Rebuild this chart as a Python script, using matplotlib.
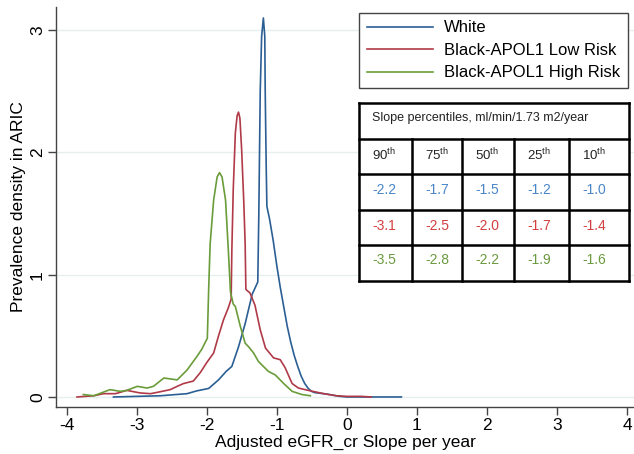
import numpy as np
import matplotlib
matplotlib.use("Agg")
import matplotlib.pyplot as plt

plt.rcParams['font.family'] = ['Liberation Sans', 'DejaVu Sans']
plt.rcParams['mathtext.fontset'] = 'custom'
plt.rcParams['mathtext.rm'] = 'Liberation Sans'
plt.rcParams['axes.unicode_minus'] = False

# density curves
white_x = [-3.33, -2.66, -2.28, -2.14, -1.97, -1.83, -1.72, -1.64, -1.545, -1.45, -1.35, -1.27,
           -1.255, -1.235, -1.215, -1.19, -1.17, -1.164, -1.15, -1.14, -1.10, -1.05, -1.0, -0.95,
           -0.9, -0.85, -0.8, -0.75, -0.7, -0.65, -0.6, -0.55, -0.5, -0.45, -0.3, -0.2, -0.1,
           0.0, 0.4, 0.78]
white_y = [0.0, 0.01, 0.027, 0.05, 0.07, 0.14, 0.21, 0.25, 0.41, 0.60, 0.84, 0.94,
           1.5, 2.5, 2.95, 3.10, 2.95, 2.51, 1.9, 1.56, 1.45, 1.28, 1.08, 0.90,
           0.74, 0.58, 0.45, 0.34, 0.25, 0.17, 0.11, 0.07, 0.045, 0.035, 0.025, 0.015, 0.005,
           0.0, 0.0, 0.0]

low_x = [-3.85, -3.61, -3.47, -3.30, -3.14, -2.95, -2.80, -2.66, -2.52, -2.42, -2.33, -2.19,
         -2.09, -2.0, -1.90, -1.83, -1.76, -1.69, -1.65, -1.64, -1.62, -1.59, -1.565, -1.545,
         -1.525, -1.50, -1.47, -1.45, -1.44, -1.38, -1.31, -1.235, -1.16, -1.045, -0.95, -0.88,
         -0.78, -0.69, -0.55, -0.33, -0.15, 0.0, 0.2, 0.35]
low_y = [0.0, 0.01, 0.027, 0.027, 0.054, 0.033, 0.027, 0.043, 0.06, 0.087, 0.11, 0.13,
         0.20, 0.28, 0.36, 0.50, 0.63, 0.73, 0.80, 1.2, 1.7, 2.16, 2.3, 2.33,
         2.28, 2.02, 1.6, 1.25, 0.88, 0.85, 0.75, 0.55, 0.40, 0.32, 0.305, 0.24,
         0.11, 0.073, 0.054, 0.027, 0.01, 0.005, 0.005, 0.0]

high_x = [-3.76, -3.61, -3.38, -3.23, -3.14, -2.99, -2.85, -2.76, -2.61, -2.42, -2.28, -2.14,
          -2.07, -1.99, -1.97, -1.95, -1.90, -1.85, -1.816, -1.78, -1.73, -1.69, -1.66, -1.62,
          -1.59, -1.52, -1.45, -1.40, -1.33, -1.26, -1.19, -1.12, -1.02, -0.90, -0.78, -0.64,
          -0.52]
high_y = [0.02, 0.01, 0.06, 0.046, 0.054, 0.087, 0.073, 0.087, 0.155, 0.14, 0.22, 0.33,
          0.39, 0.48, 0.9, 1.25, 1.61, 1.80, 1.835, 1.80, 1.61, 1.20, 0.86, 0.76,
          0.74, 0.58, 0.44, 0.41, 0.36, 0.29, 0.25, 0.21, 0.18, 0.11, 0.046, 0.02,
          0.01]

labels = ["White", "Black-APOL1 Low Risk", "Black-APOL1 High Risk"]
pct_names = ["90", "75", "50", "25", "10"]
white_pct = [-2.2, -1.7, -1.5, -1.2, -1.0]
low_pct = [-3.1, -2.5, -2.0, -1.7, -1.4]
high_pct = [-3.5, -2.8, -2.2, -1.9, -1.6]

line_cols = ["#2b5f94", "#b03a48", "#6a9c3a"]
text_cols = ["#4a86c8", "#d33f3f", "#6b9a40"]

W, H = 634, 454
fig = plt.figure(figsize=(W / 100, H / 100), dpi=100)
ax = fig.add_axes([56 / W, 1 - 407 / H, (634 - 56) / W, 400 / H])

for xs, ys, c, lab in zip([white_x, low_x, high_x], [white_y, low_y, high_y], line_cols, labels):
    ax.plot(xs, ys, color=c, lw=1.2, label=lab)

ax.set_xlim(-4.15, 4.1)
ax.set_ylim(-0.082, 3.19)
ax.set_xticks([-4, -3, -2, -1, 0, 1, 2, 3, 4])
ax.set_yticks([0, 1, 2, 3])
for y in [0, 1, 2, 3]:
    ax.axhline(y, color="#e6efef", lw=1.0, zorder=0)
for s in ["top", "right"]:
    ax.spines[s].set_visible(False)
for s in ["left", "bottom"]:
    ax.spines[s].set_color("#444444")
    ax.spines[s].set_linewidth(1.0)
ax.tick_params(length=6, width=1, color="#444444", labelsize=12.5, pad=2)
for t in ax.get_yticklabels():
    t.set_rotation(90)
    t.set_va("center")
ax.set_xlabel("Adjusted eGFR_cr Slope per year", fontsize=12.5, labelpad=1)
ax.set_ylabel("Prevalence density in ARIC", fontsize=12.5, labelpad=3)

leg = ax.legend(loc="upper left", bbox_to_anchor=(359 / W, 1 - 13 / H), bbox_transform=fig.transFigure,
                borderaxespad=0, fontsize=12, handlelength=4.0, handletextpad=0.65,
                labelspacing=0.45, borderpad=0.45, fancybox=False, framealpha=1)
leg.get_frame().set_edgecolor("#444444")
leg.get_frame().set_linewidth(1.0)

# percentile table
tx = fig.add_axes([0, 0, 1, 1], facecolor="none")
tx.set_xlim(0, W)
tx.set_ylim(H, 0)
tx.axis("off")
cols = [359, 412, 462, 514, 569, 629]
rows = [103, 139, 174, 210, 245, 281]
tx.fill_between([cols[0], cols[-1]], rows[0], rows[-1], color="white", zorder=1)
for yy in rows:
    tx.plot([cols[0], cols[-1]], [yy, yy], color="black", lw=1.8, zorder=2, solid_capstyle="projecting")
for xx in [cols[0], cols[-1]]:
    tx.plot([xx, xx], [rows[0], rows[-1]], color="black", lw=1.8, zorder=2, solid_capstyle="projecting")
for xx in cols[1:-1]:
    tx.plot([xx, xx], [rows[1], rows[-1]], color="black", lw=1.8, zorder=2)

tx.text(cols[0] + 13, 118, "Slope percentiles, ml/min/1.73 m2/year", fontsize=9, va="center", ha="left",
        color="#222222", zorder=3)
for i, p in enumerate(pct_names):
    tx.text(cols[i] + 13, 155, p + r"$^{\mathrm{th}}$", fontsize=9.5, va="center", ha="left",
            color="#222222", zorder=3)
for r, (vals, c) in enumerate(zip([white_pct, low_pct, high_pct], text_cols)):
    for i, v in enumerate(vals):
        tx.text(cols[i] + 13, rows[r + 2] + 15.5, f"{v:.1f}", fontsize=10, va="center", ha="left",
                color=c, zorder=3)

fig.savefig("out.png", dpi=100)
